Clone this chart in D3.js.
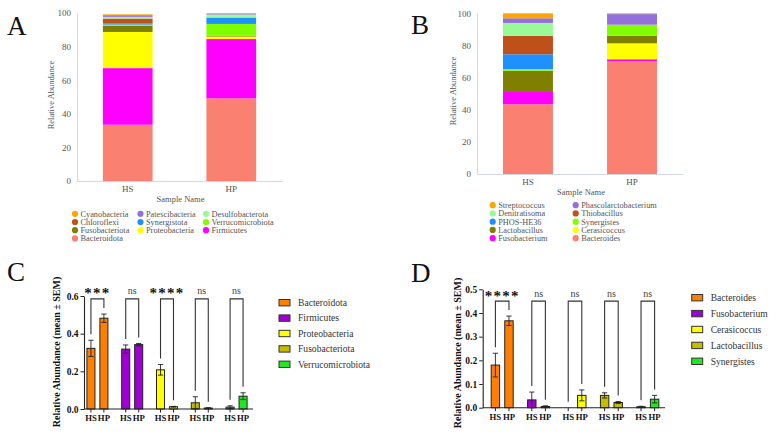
<!DOCTYPE html>
<html>
<head>
<meta charset="utf-8">
<script src="https://cdn.jsdelivr.net/npm/d3@7/dist/d3.min.js"></script>
<style>
  body { margin: 0; background: #fff; }
  svg { font-family: "Liberation Serif", "Times New Roman", serif; }
</style>
</head>
<body>
<div id="chart"></div>
<script>
// panel A: phylum level stacked bars (bottom to top)
const phyla = ['Bacteroidota', 'Firmicutes', 'Proteobacteria', 'Fusobacteriota', 'Verrucomicrobiota',
  'Synergistota', 'Chloroflexi', 'Desulfobacterota', 'Patescibacteria', 'Cyanobacteria'];
const phylaHS = [33.5, 33.7, 21.5, 3.6, 0.8, 0.6, 3.0, 1.0, 1.0, 0.5];
const phylaHP = [49.2, 35.3, 1.5, 0.5, 7.0, 3.6, 0.2, 1.8, 0.3, 0.5];
const phylaColors = ['#FA8072', '#FF00FF', '#FFFF00', '#808000', '#7FFF00',
  '#1E90FF', '#C0501A', '#98FB98', '#9370DB', '#FFA500'];

// panel B: genus level stacked bars (bottom to top)
const genera = ['Bacteroides', 'Fusobacterium', 'Cerasicoccus', 'Lactobacillus', 'Synergistes',
  'PHOS-HE36', 'Thiobacillus', 'Denitratisoma', 'Phascolarctobacterium', 'Streptococcus'];
const generaHS = [43.4, 8.2, 0, 12.7, 1.0, 9.2, 11.5, 8.0, 2.9, 3.1];
const generaHP = [70.1, 1.3, 9.9, 4.7, 6.9, 0, 0, 0, 6.6, 0.5];
const generaColors = ['#FA8072', '#FF00FF', '#FFFF00', '#808000', '#7FFF00',
  '#1E90FF', '#C0501A', '#98FB98', '#9370DB', '#FFA500'];

const samples = ['HS', 'HP'];

// panel C: phylum means +- SEM
const taxaC = ['Bacteroidota', 'Firmicutes', 'Proteobacteria', 'Fusobacteriota', 'Verrucomicrobiota'];
const meanHSC = [0.322, 0.318, 0.208, 0.033, 0.010];
const semHSC = [0.043, 0.022, 0.028, 0.032, 0.007];
const meanHPC = [0.482, 0.342, 0.012, 0.005, 0.068];
const semHPC = [0.022, 0.006, 0.002, 0.002, 0.018];
const sigC = ['***', 'ns', '****', 'ns', 'ns'];
const yTicksC = [0, 0.2, 0.4, 0.6];

// panel D: genus means +- SEM
const taxaD = ['Bacteroides', 'Fusobacterium', 'Cerasicoccus', 'Lactobacillus', 'Synergistes'];
const meanHSD = [0.180, 0.033, 0.000, 0.052, 0.004];
const semHSD = [0.050, 0.033, 0.000, 0.011, 0.002];
const meanHPD = [0.367, 0.005, 0.052, 0.022, 0.036];
const semHPD = [0.020, 0.003, 0.023, 0.004, 0.016];
const sigD = ['****', 'ns', 'ns', 'ns', 'ns'];
const yTicksD = [0, 0.1, 0.2, 0.3, 0.4, 0.5];

const barColors = ['#FF8000', '#A000D4', '#FFFF00', '#C4BC00', '#22E622'];

const svg = d3.select('#chart').append('svg')
  .attr('width', 777)
  .attr('height', 436);

function panelLetter(x, y, t) {
  svg.append('text').attr('x', x).attr('y', y)
    .attr('font-size', 27).attr('fill', '#111').text(t);
}

panelLetter(7, 35, 'A');
panelLetter(411, 34, 'B');
panelLetter(7, 281, 'C');
panelLetter(411, 282, 'D');

function stackedPanel(cfg) {
  let rows = samples.map(function (s, i) {
    let r = { sample: s };
    cfg.keys.forEach(function (k, j) { r[k] = i === 0 ? cfg.hs[j] : cfg.hp[j]; });
    return r;
  });
  let series = d3.stack().keys(cfg.keys)(rows);

  let y = d3.scaleLinear().domain([0, 100]).range([cfg.y0, cfg.y1]);
  let x = d3.scaleBand().domain(samples).range([cfg.x0, cfg.x1])
    .paddingInner(0.52).paddingOuter(0.25);

  let g = svg.append('g');

  g.selectAll('.layer')
    .data(series)
    .enter().append('g')
    .attr('fill', function (d, i) { return cfg.colors[i]; })
    .selectAll('rect')
    .data(function (d) { return d; })
    .enter().append('rect')
    .attr('x', function (d) { return x(d.data.sample); })
    .attr('y', function (d) { return y(d[1]); })
    .attr('width', x.bandwidth())
    .attr('height', function (d) { return y(d[0]) - y(d[1]); });

  let ya = g.append('g')
    .attr('transform', 'translate(' + cfg.x0 + ',0)')
    .call(d3.axisLeft(y).tickValues([0, 20, 40, 60, 80, 100]).tickSize(0).tickPadding(6));
  ya.select('.domain').attr('stroke', '#d4d6ea');
  ya.selectAll('text').attr('font-family', 'Liberation Serif').attr('font-size', 9).attr('fill', '#555');

  let xa = g.append('g')
    .attr('transform', 'translate(0,' + cfg.y0 + ')')
    .call(d3.axisBottom(x).tickSize(0).tickPadding(5).tickSizeOuter(0));
  xa.select('.domain').attr('stroke', '#d4d6ea');
  xa.selectAll('text').attr('font-family', 'Liberation Serif').attr('font-size', 9).attr('fill', '#555');

  g.append('text')
    .attr('x', (cfg.x0 + cfg.x1) / 2 + 1).attr('y', cfg.y0 + 21)
    .attr('text-anchor', 'middle').attr('font-size', 8.5).attr('fill', '#555')
    .text('Sample Name');

  g.append('text')
    .attr('transform', 'translate(' + cfg.ylabX + ',' + cfg.ylabY + ') rotate(-90)')
    .attr('text-anchor', 'middle').attr('font-size', 8.5).attr('fill', '#555')
    .text('Relative Abundance');

  // legend, top of stack first
  let order = d3.range(cfg.keys.length).reverse();
  order.forEach(function (k, i) {
    let col = i % cfg.cols;
    let row = Math.floor(i / cfg.cols);
    let lx = cfg.legX + col * cfg.legColW;
    let ly = cfg.legY + row * cfg.legRowH;
    g.append('circle').attr('cx', lx).attr('cy', ly).attr('r', 3.1).attr('fill', cfg.colors[k]);
    g.append('text').attr('x', lx + 5.5).attr('y', ly + 3)
      .attr('font-size', 8.3).attr('fill', '#555').text(cfg.keys[k]);
  });
}

stackedPanel({
  keys: phyla, hs: phylaHS, hp: phylaHP, colors: phylaColors,
  x0: 77, x1: 282, y0: 181, y1: 13,
  ylabX: 54, ylabY: 95,
  cols: 3, legX: 75, legY: 213.8, legColW: 65.5, legRowH: 8.2
});

stackedPanel({
  keys: genera, hs: generaHS, hp: generaHP, colors: generaColors,
  x0: 477, x1: 683, y0: 174, y1: 13.3,
  ylabX: 456, ylabY: 91,
  cols: 2, legX: 492.7, legY: 205.2, legColW: 83, legRowH: 8.25
});

function meanPanel(cfg) {
  let y = d3.scaleLinear().domain([0, cfg.max]).range([cfg.y0, cfg.y1]);
  let xg = d3.scaleBand().domain(cfg.taxa).range([cfg.gx0, cfg.gx1])
    .paddingInner(0.396).paddingOuter(0.17);
  let xi = d3.scaleBand().domain(samples).range([0, xg.bandwidth()]).paddingInner(0.38);

  let g = svg.append('g');

  cfg.taxa.forEach(function (t, i) {
    let gg = g.append('g').attr('transform', 'translate(' + xg(t) + ',0)');
    let vals = [
      { s: 'HS', m: cfg.hs[i], e: cfg.hsE[i] },
      { s: 'HP', m: cfg.hp[i], e: cfg.hpE[i] }
    ];

    gg.selectAll('rect')
      .data(vals)
      .enter().append('rect')
      .attr('x', function (d) { return xi(d.s); })
      .attr('y', function (d) { return y(d.m); })
      .attr('width', xi.bandwidth())
      .attr('height', function (d) { return cfg.y0 - y(d.m); })
      .attr('fill', cfg.colors[i])
      .attr('stroke', '#222')
      .attr('stroke-width', 1);

    // error bars
    vals.forEach(function (d) {
      if (d.e <= 0) return;
      let cx = xi(d.s) + xi.bandwidth() / 2;
      let top = y(d.m + d.e);
      let bot = y(Math.max(0, d.m - d.e));
      gg.append('line').attr('x1', cx).attr('x2', cx).attr('y1', top).attr('y2', bot)
        .attr('stroke', '#222').attr('stroke-width', 0.9);
      gg.append('line').attr('x1', cx - 2.6).attr('x2', cx + 2.6).attr('y1', top).attr('y2', top)
        .attr('stroke', '#222').attr('stroke-width', 0.9);
      gg.append('line').attr('x1', cx - 2.6).attr('x2', cx + 2.6).attr('y1', bot).attr('y2', bot)
        .attr('stroke', '#222').attr('stroke-width', 0.9);
    });

    // significance bracket
    let xl = xi('HS') + xi.bandwidth() / 2;
    let xr = xi('HP') + xi.bandwidth() / 2;
    let yl = y(cfg.hs[i] + cfg.hsE[i]) - 6;
    let yr = y(cfg.hp[i] + cfg.hpE[i]) - 6;
    let yt = y(cfg.brk);
    gg.append('path')
      .attr('d', 'M' + xl + ',' + yl + 'V' + yt + 'H' + xr + 'V' + yr)
      .attr('fill', 'none').attr('stroke', '#333').attr('stroke-width', 1.1);

    let stars = cfg.sig[i] !== 'ns';
    gg.append('text')
      .attr('x', (xl + xr) / 2).attr('y', stars ? yt - 0.5 : yt - 4.5)
      .attr('text-anchor', 'middle')
      .attr('font-size', stars ? 15 : 10)
      .attr('font-weight', stars ? 'bold' : 'normal')
      .attr('letter-spacing', stars ? 1.2 : 0)
      .attr('fill', stars ? '#111' : '#444')
      .text(cfg.sig[i]);

    // x ticks per bar
    let xa = gg.append('g')
      .attr('transform', 'translate(0,' + cfg.y0 + ')')
      .call(d3.axisBottom(xi).tickSize(3.5).tickPadding(2.5));
    xa.select('.domain').remove();
    xa.selectAll('line').attr('stroke', '#222');
    xa.selectAll('text').attr('font-family', 'Liberation Serif').attr('font-weight', 'bold')
      .attr('font-size', 8.7).attr('fill', '#111');
  });

  g.append('line')
    .attr('x1', cfg.ax).attr('x2', cfg.gx1)
    .attr('y1', cfg.y0).attr('y2', cfg.y0)
    .attr('stroke', '#222').attr('stroke-width', 1.1);

  let ya = g.append('g')
    .attr('transform', 'translate(' + cfg.ax + ',0)')
    .call(d3.axisLeft(y).tickValues(cfg.ticks).tickFormat(d3.format('.1f')).tickSize(3.5).tickSizeOuter(0).tickPadding(2));
  ya.select('.domain').attr('stroke', '#222').attr('stroke-width', 1.1);
  ya.selectAll('line').attr('stroke', '#222');
  ya.selectAll('text').attr('font-family', 'Liberation Serif').attr('font-weight', 'bold')
    .attr('font-size', 9.5).attr('fill', '#111');

  g.append('text')
    .attr('transform', 'translate(' + cfg.ylabX + ',' + cfg.ylabY + ') rotate(-90)')
    .attr('text-anchor', 'middle').attr('font-size', 10).attr('font-weight', 'bold').attr('fill', '#111')
    .text('Relative Abundance (mean \u00b1 SEM)');

  cfg.taxa.forEach(function (t, i) {
    let ly = cfg.legY + i * cfg.legRowH;
    g.append('rect').attr('x', cfg.legX).attr('y', ly - 3.2)
      .attr('width', 11).attr('height', 6.4)
      .attr('fill', cfg.colors[i]).attr('stroke', '#333').attr('stroke-width', 1);
    g.append('text').attr('x', cfg.legX + 19).attr('y', ly + 3.3)
      .attr('font-size', 9.6).attr('fill', '#333').text(t);
  });
}

meanPanel({
  taxa: taxaC, hs: meanHSC, hsE: semHSC, hp: meanHPC, hpE: semHPC, sig: sigC,
  colors: barColors, max: 0.6, ticks: yTicksC, brk: 0.585,
  y0: 409, y1: 296, ax: 84, gx0: 81, gx1: 253,
  ylabX: 60, ylabY: 352,
  legX: 279, legY: 302.7, legRowH: 15.4
});

meanPanel({
  taxa: taxaD, hs: meanHSD, hsE: semHSD, hp: meanHPD, hpE: semHPD, sig: sigD,
  colors: barColors, max: 0.5, ticks: yTicksD, brk: 0.45,
  y0: 407.7, y1: 289.3, ax: 482.7, gx0: 485, gx1: 665,
  ylabX: 461, ylabY: 353,
  legX: 691.7, legY: 297.7, legRowH: 15.9
});
</script>
</body>
</html>
